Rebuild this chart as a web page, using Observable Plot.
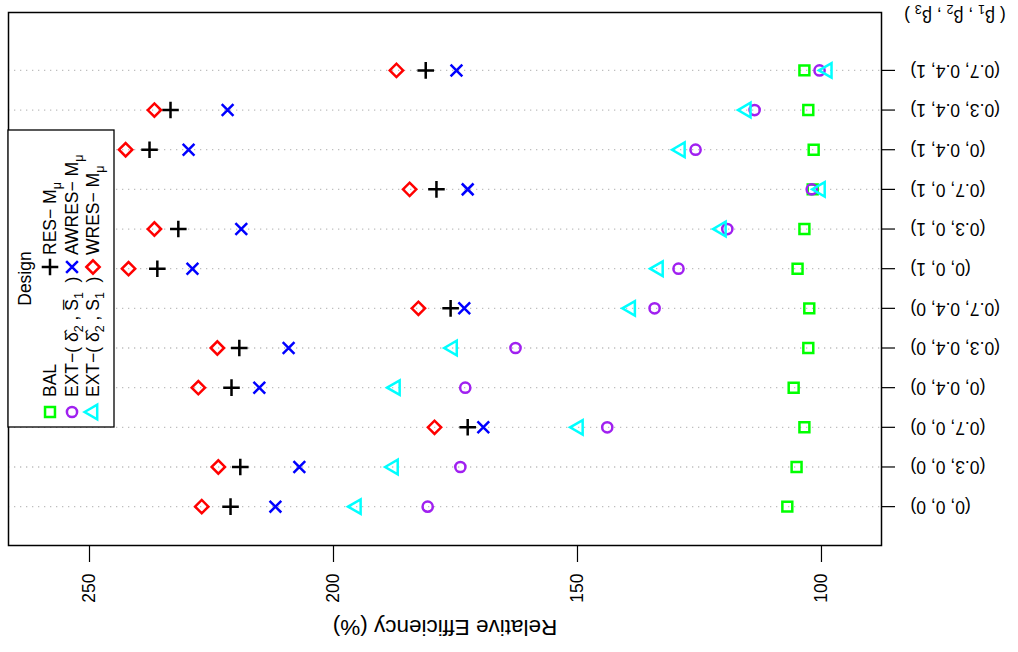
<!DOCTYPE html>
<html><head><meta charset="utf-8">
<script src="https://cdn.jsdelivr.net/npm/d3@7"></script>
<script src="https://cdn.jsdelivr.net/npm/@observablehq/plot@0.6"></script>
<style>
html,body{margin:0;padding:0;overflow:hidden;background:#fff;width:1018px;height:652px;}
#rot{position:absolute;left:0;top:0;width:652px;height:1018px;transform-origin:0 0;transform:translate(0px,652px) rotate(-90deg);}
</style></head><body><div id="rot"></div>
<script>
const categories = ["(0, 0, 0)","(0.3, 0, 0)","(0.7, 0, 0)","(0, 0.4, 0)","(0.3, 0.4, 0)","(0.7, 0.4, 0)","(0, 0, 1)","(0.3, 0, 1)","(0.7, 0, 1)","(0, 0.4, 1)","(0.3, 0.4, 1)","(0.7, 0.4, 1)"];
const bal     = [107.0,105.1,103.5,105.7,102.7,102.5,104.9,103.5,101.8,101.6,102.7,103.5];
const extSbar = [180.7,174.0,143.9,173.0,162.7,134.2,129.3,119.3,102.0,125.8,113.7,100.4];
const extS    = [195.3,187.7,149.8,187.3,175.6,139.1,133.4,120.5,100.2,128.9,115.4,98.8];
const res     = [221.1,219.1,172.5,220.9,219.3,176.0,236.1,231.8,178.9,237.7,233.4,181.1];
const awres   = [211.9,207.0,169.3,215.2,209.2,173.2,228.9,218.9,172.5,229.7,221.7,174.8];
const wres    = [227.0,223.6,179.3,227.7,223.8,182.6,242.0,236.7,184.4,242.6,236.7,187.1];
const yTicks = [100,150,200,250];
const seriesNames = ["BAL","EXT-Sbar","EXT-S","RES","AWRES","WRES"];
const seriesColors = ["#00FF00","#A020F0","#00FFFF","#000000","#0000FF","#FF0000"];
const seriesSymbols = ["square","circle","triangle","plus","times","diamond2"];
const seriesR = [5.6,5.1,5.4,5.4,5.4,6.0];
const seriesValues = [bal, extSbar, extS, res, awres, wres];

const FONT = "'Liberation Sans', Arial, Helvetica, sans-serif";
const idx = categories.map((_, i) => i + 1);

const dotMarks = seriesValues.map((vals, s) => Plot.dot(idx, {
  x: d => d, y: (d, i) => vals[i],
  symbol: seriesSymbols[s], r: seriesR[s],
  stroke: seriesColors[s], fill: "none", strokeWidth: 2.5
}));

const chart = Plot.plot({
  width: 652, height: 1018,
  marginLeft: 106, marginRight: 13, marginTop: 8, marginBottom: 137,
  style: {fontFamily: FONT, color: "black", background: "white"},
  x: {type: "linear", domain: [0.02, 13.46]},
  y: {domain: [87.7, 266.6]},
  marks: [
    Plot.ruleX(idx, {x: d => d, stroke: "#BEBEBE", strokeDasharray: "1.3,4.7", strokeWidth: 1.3}),
    ...dotMarks,
    Plot.axisY({ticks: yTicks, tickSize: 16, tickPadding: 12, fontSize: 17.5, label: null, strokeWidth: 1.2}),
    Plot.axisX({ticks: idx, tickFormat: i => categories[i - 1], tickRotate: -90, tickSize: 14, tickPadding: 15, fontSize: 17.5, label: null, strokeWidth: 1.2}),
    Plot.frame({stroke: "black", strokeWidth: 1.5}),
    Plot.text(["Relative Efficiency (%)"], {frameAnchor: "left", textAnchor: "middle", dx: -82, rotate: -90, fontSize: 22.5, fill: "black"})
  ]
});
document.getElementById("rot").appendChild(chart);

// legend and extra label with subscripts
const svg = d3.select(chart);
const lg = svg.append("g");
lg.append("rect").attr("x", 225).attr("y", 8).attr("width", 297).attr("height", 106)
  .attr("fill", "white").attr("stroke", "black").attr("stroke-width", 1.3);
const txtStyle = `font-family:${FONT};font-size:17.5px;fill:black;`;
lg.append("text").attr("x", 373.5).attr("y", 25).attr("dy", "0.35em")
  .attr("style", txtStyle + "text-anchor:middle;").text("Design");

const d3sym = {square: d3.symbolSquare, circle: d3.symbolCircle, triangle: d3.symbolTriangle, plus: d3.symbolPlus, times: d3.symbolTimes, diamond2: d3.symbolDiamond2};
const legendLabels = [
  [["BAL"]],
  [["EXT\u2212( \u03B4\u0302"], ["2", "sub"], [" , S\u0305"], ["1", "sub"], ["  )"]],
  [["EXT\u2212( \u03B4\u0302"], ["2", "sub"], [" , S"], ["1", "sub"], ["  )"]],
  [["RES\u2212 M"], ["\u03BC", "sub"]],
  [["AWRES\u2212 M"], ["\u03BC", "sub"]],
  [["WRES\u2212 M"], ["\u03BC", "sub"]]
];
const rowsY = [50, 72, 93];
seriesNames.forEach((name, s) => {
  const col = s < 3 ? 0 : 1;
  const row = s % 3;
  const sx = col === 0 ? 240 : 385;
  const tx = col === 0 ? 255 : 397;
  const yy = rowsY[row];
  lg.append("path")
    .attr("transform", `translate(${sx},${yy})`)
    .attr("d", d3.symbol(d3sym[seriesSymbols[s]], Math.PI * seriesR[s] * seriesR[s])())
    .attr("fill", "none").attr("stroke", seriesColors[s]).attr("stroke-width", 2.5);
  const t = lg.append("text").attr("x", tx).attr("y", yy).attr("dy", "0.35em")
    .attr("style", txtStyle + "text-anchor:start;white-space:pre;");
  appendRich(t, legendLabels[s]);
});

function appendRich(t, parts) {
  let shifted = false;
  parts.forEach(([str, kind]) => {
    const sp = t.append("tspan").text(str);
    if (kind === "sub") {
      sp.attr("style", "font-size:12.5px;").attr("dy", 5);
      shifted = true;
    } else if (shifted) {
      sp.attr("dy", -5);
      shifted = false;
    }
  });
}

const bt = svg.append("text").attr("style", txtStyle + "text-anchor:middle;white-space:pre;")
  .attr("transform", "translate(642,955) rotate(-90)");
appendRich(bt, [["( \u03B2"], ["1", "sub"], [" , \u03B2"], ["2", "sub"], [" , \u03B2"], ["3", "sub"], [" )"]]);
</script></body></html>
